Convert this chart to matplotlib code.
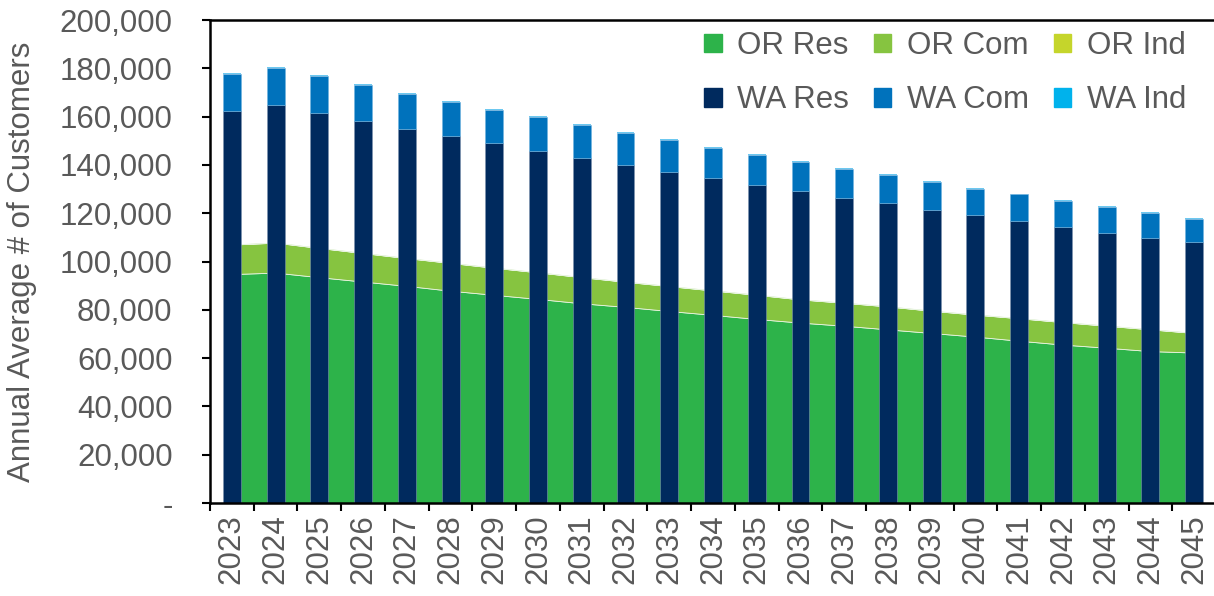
import matplotlib
matplotlib.use("Agg")
import matplotlib.pyplot as plt
from matplotlib.patches import Patch
from matplotlib.ticker import FuncFormatter, FixedLocator
import numpy as np

years = [str(y) for y in range(2023, 2046)]

or_res = [94800, 95400, 93500, 91700, 89900, 87900, 86200, 84500, 82700, 81200, 79500,
          77900, 76200, 74700, 73400, 71900, 70400, 68900, 67200, 65600, 64300, 62900, 62300]
or_com = [12200, 12400, 12100, 11800, 11500, 11500, 11200, 11000, 10800, 10400, 10300,
          10100, 10000, 9600, 9500, 9500, 9200, 9100, 9300, 9300, 9100, 9000, 8100]
or_ind = [60, 60, 60, 60, 60, 60, 60, 60, 60, 60, 60,
          60, 60, 60, 60, 60, 60, 60, 60, 60, 60, 60, 60]

wa_res = [162400, 164900, 161600, 158300, 155000, 152100, 148900, 145900, 143000, 140000, 137200,
          134600, 131800, 129300, 126400, 124100, 121500, 119300, 116900, 114400, 111900, 109900, 107900]
wa_com = [15400, 15200, 15100, 14700, 14500, 14100, 14000, 13800, 13400, 13300, 13000,
          12500, 12400, 12000, 12100, 11600, 11400, 10900, 10900, 10800, 10800, 10300, 9800]
wa_ind = [350, 350, 350, 350, 350, 350, 350, 350, 350, 350, 350,
          350, 350, 350, 350, 350, 350, 350, 350, 350, 350, 350, 350]

c_or_res = "#2DB34A"
c_or_com = "#86C440"
c_or_ind = "#C5D52B"
c_wa_res = "#002A5E"
c_wa_com = "#0072BC"
c_wa_ind = "#00B2EC"
c_wa_ind_bar = "#6CC8F0"
txt = "#595959"
fs = 22.5

plt.rcParams['font.family'] = ['Liberation Sans', 'DejaVu Sans']

W, H = 1214, 596
fig = plt.figure(figsize=(W / 100, H / 100), dpi=100)
AXW = 1216 - 210
ax = fig.add_axes([210 / W, 1 - 503 / H, AXW / W, (503 - 20) / H])

x = np.arange(len(years))
ax.stackplot(x, or_res, or_com, or_ind, colors=[c_or_res, c_or_com, c_or_ind],
             edgecolor="#E8F4E0", linewidth=0.6, zorder=1)

bw = 0.41
b1 = np.array(wa_res)
b2 = b1 + np.array(wa_com)
ax.bar(x, wa_res, bw, color=c_wa_res, zorder=2, edgecolor="#7E93AE", linewidth=0.4)
ax.bar(x, wa_com, bw, bottom=b1, color=c_wa_com, zorder=2, edgecolor="#6FB3E0", linewidth=0.4)
ax.bar(x, wa_ind, bw, bottom=b2, color=c_wa_ind_bar, zorder=2, linewidth=0)

ax.set_xlim(-0.5, 22.5)
ax.set_ylim(0, 200000)

ax.set_yticks(np.arange(0, 200001, 20000))
ax.yaxis.set_major_formatter(FuncFormatter(lambda v, p: "-" if v == 0 else f"{int(v):,}"))
ax.set_xticks(x)
ax.set_xticklabels(years, rotation=90)
ax.xaxis.set_minor_locator(FixedLocator(np.arange(-0.5, 23, 1)))
ax.tick_params(axis='x', which='major', length=0, pad=8, labelsize=fs, labelcolor=txt)
ax.tick_params(axis='x', which='minor', length=6, width=1.5, direction='out', color='black')
ax.tick_params(axis='y', length=6, width=1.5, direction='out', pad=21, labelsize=fs,
               labelcolor=txt, color='black')

for s in ['left', 'bottom', 'top']:
    ax.spines[s].set_linewidth(1.8)
    ax.spines[s].set_color('black')
ax.spines['right'].set_visible(False)

ax.set_ylabel("Annual Average # of Customers", fontsize=fs, color=txt)
ax.yaxis.set_label_coords((37 - 210) / AXW, 0.5)

handles = [Patch(color=c_or_res), Patch(color=c_wa_res),
           Patch(color=c_or_com), Patch(color=c_wa_com),
           Patch(color=c_or_ind), Patch(color=c_wa_ind)]
labels = ["OR Res", "WA Res", "OR Com", "WA Com", "OR Ind", "WA Ind"]
leg = fig.legend(handles, labels, ncol=3, loc='upper right',
                 bbox_to_anchor=(1186 / W, 1 - 31 / H),
                 frameon=False, fontsize=fs, handlelength=0.55, handleheight=0.55,
                 handletextpad=0.5, columnspacing=0.8, labelspacing=0.78,
                 borderpad=0, borderaxespad=0)
for t in leg.get_texts():
    t.set_color(txt)

fig.savefig("out.png", dpi=100)
